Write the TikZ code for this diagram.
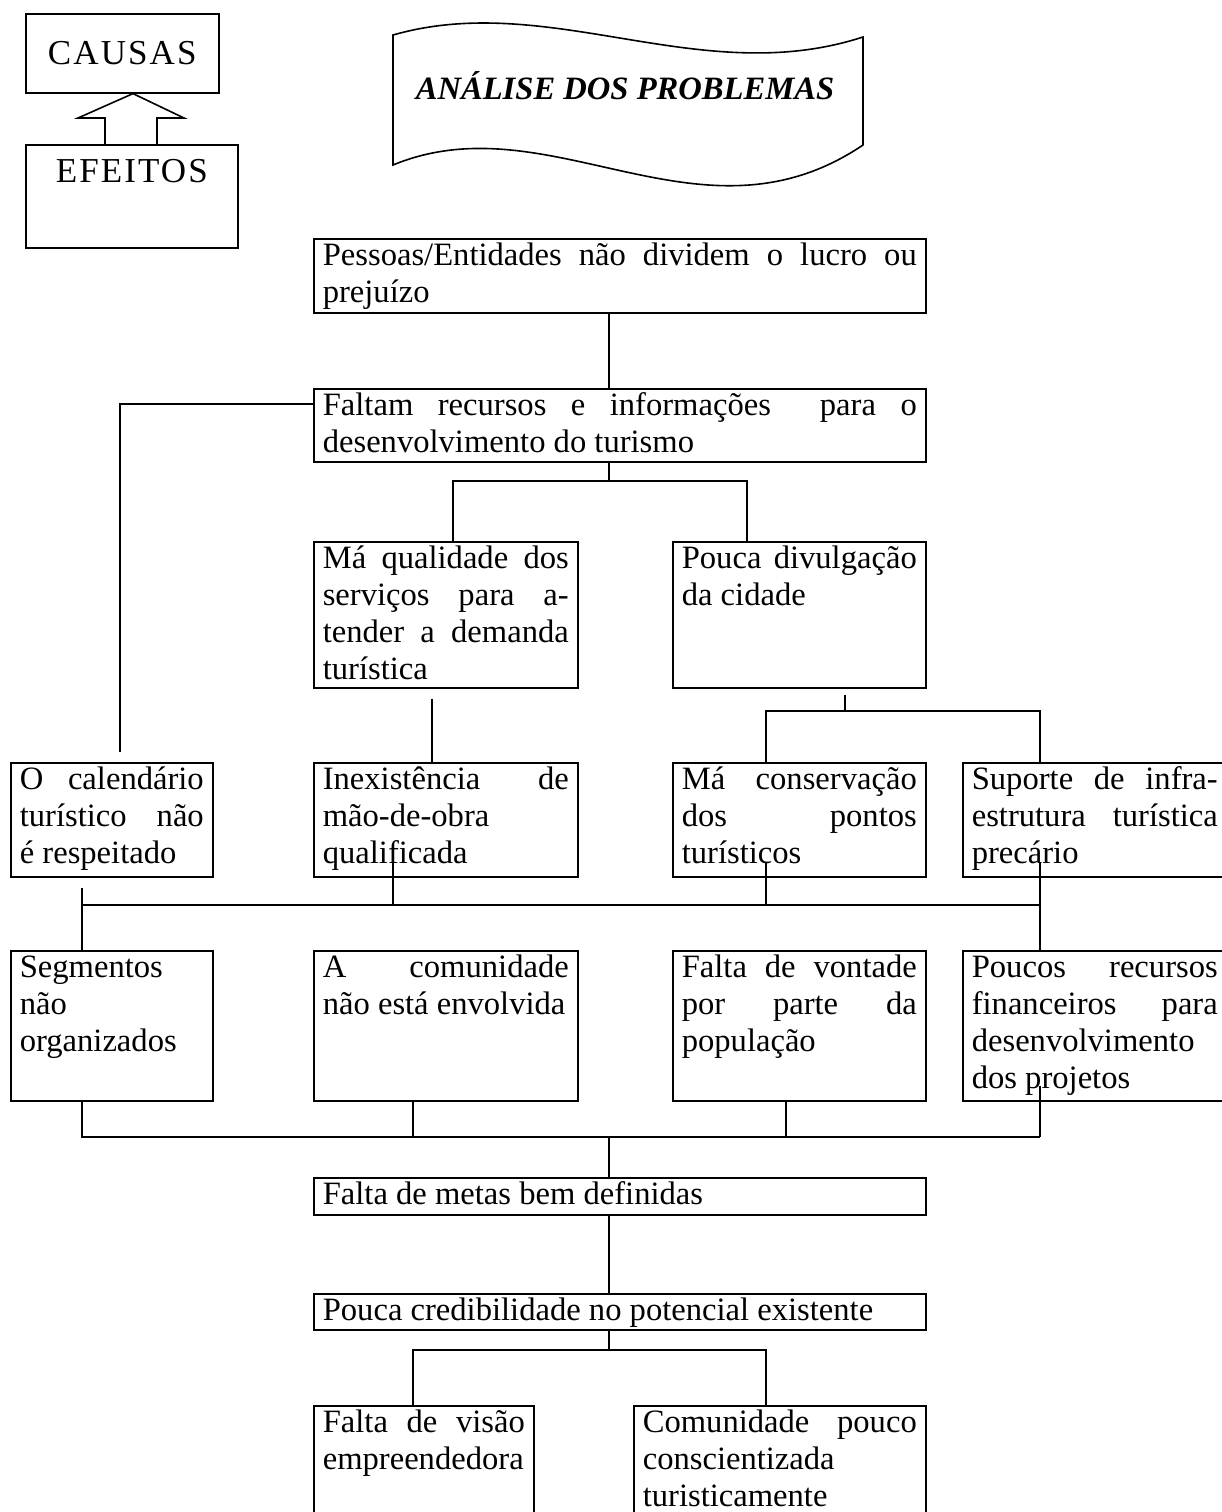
\documentclass[tikz,border=0pt]{standalone}
\usepackage{fontspec}
\setmainfont{Liberation Serif}
\newfontfamily\legfont[LetterSpace=6]{Liberation Serif}
\usetikzlibrary{calc,positioning}
\tikzset{
  box/.style={draw,line width=.8pt,anchor=north west,inner xsep=4.5pt,inner ysep=0pt,
    align=justify,text height=13.5pt,text depth=#1,
    font={\fontsize{16.3}{18.5}\selectfont\hyphenpenalty=10000\tolerance=9999}},
  legbox/.style={draw,line width=.8pt,anchor=north west,inner sep=0pt,
    font={\fontsize{17.5}{19}\legfont}},
  link/.style={line width=.8pt}
}
\begin{document}
\begin{tikzpicture}[x=.5pt,y=-.5pt]
  \useasboundingbox (0,0) rectangle (1222,1512);
  \clip (0,0) rectangle (1222,1512);
  \node[legbox,minimum width=96.5pt,minimum height=39.5pt] (cau) at (25,13) {CAUSAS\hspace{1pt}};
  \node[legbox,minimum width=106pt,text height=19pt,text depth=32.5pt] (efe) at (25,144) {EFEITOS\hspace{5pt}};
  \draw[link] (105,0 |- efe.north) -- (105,118) -- (78,118) -- (133,0 |- cau.south)
    -- (184,118) -- (157,118) -- (157,0 |- efe.north);
  \draw[link] (393,35) .. controls (550,-10) and (700,90) .. (863,37) -- (863,145)
    .. controls (700,255) and (550,100) .. (393,165) -- cycle;
  \node[font={\fontsize{16.3}{18.5}\selectfont\bfseries\itshape}] (tit) at (625,86) {ANÁLISE DOS PROBLEMAS};

  \node[box=23.5pt,text width=297pt] (pess) at (313,238) {Pessoas/Entidades não dividem o lucro ou\linebreak prejuízo};
  \node[box=23pt,text width=297pt] (falt) at (313,388) {Faltam recursos e informações\ \ para o\linebreak desenvolvimento do turismo};
  \node[box=59.5pt,text width=123pt] (mqual) at (313,541) {Má qualidade dos\linebreak serviços para a-\linebreak tender a demanda\linebreak turística};
  \node[box=59.5pt,text width=117.5pt] (pdiv) at (672,541) {Pouca divulgação\linebreak da cidade};
  \node[box=43.5pt,text width=92pt] (cal) at (10,762) {O calendário\linebreak turístico não\linebreak é respeitado};
  \node[box=43.5pt,text width=123pt] (inex) at (313,762) {Inexistência de\linebreak mão-de-obra\\ qualificada};
  \node[box=43.5pt,text width=117.5pt] (mcons) at (672,762) {Má conservação\linebreak dos pontos\linebreak turísticos};
  \node[box=43.5pt,text width=123pt] (sup) at (962,762) {Suporte de infra-\linebreak estrutura turística\linebreak precário};
  \node[box=61.5pt,text width=92pt] (seg) at (10,950) {Segmentos\\ não\\ organizados};
  \node[box=61.5pt,text width=123pt] (com) at (313,950) {A comunidade\linebreak não está envolvida};
  \node[box=61.5pt,text width=117.5pt] (fvon) at (672,950) {Falta de vontade\linebreak por parte da\linebreak população};
  \node[box=61.5pt,text width=123pt] (pouc) at (962,950) {Poucos recursos\linebreak financeiros para\linebreak desenvolvimento\\ dos projetos};
  \node[box=5pt,text width=297pt] (metas) at (313,1177) {Falta de metas bem definidas};
  \node[box=4.5pt,text width=297pt] (cred) at (313,1293) {Pouca credibilidade no potencial existente};
  \node[box=70pt,text width=101pt] (visao) at (313,1405) {Falta de visão\linebreak empreendedora};
  \node[box=70pt,text width=137pt] (consc) at (633,1405) {Comunidade pouco\linebreak conscientizada\\ turisticamente};

  \draw[link] (609,0 |- pess.south) -- (609,0 |- falt.north);
  \draw[link] (falt.west |- 0,404) -- (120,404) -- ($(120,0 |- cal.north)+(0,-10)$);
  \draw[link] (609,0 |- falt.south) -- (609,481);
  \draw[link] (453,0 |- mqual.north) |- (747,481) -- (747,0 |- pdiv.north);
  \draw[link] ($(432,0 |- mqual.south)+(0,10)$) -- (432,0 |- inex.north);
  \draw[link] ($(845,0 |- pdiv.south)+(0,6)$) -- (845,711);
  \draw[link] (766,0 |- mcons.north) |- (1040,711) -- (1040,0 |- sup.north);
  \draw[link] ($(82,0 |- cal.south)+(0,10)$) -- (82,0 |- seg.north);
  \draw[link] (82,905) -- (1040,905);
  \draw[link] ($(393,0 |- inex.south)+(0,-16)$) -- (393,905);
  \draw[link] ($(766,0 |- mcons.south)+(0,-16)$) -- (766,905);
  \draw[link] ($(1040,0 |- sup.south)+(0,-16)$) -- (1040,0 |- pouc.north);
  \draw[link] (82,0 |- seg.south) |- (1040,1137);
  \draw[link] (413,0 |- com.south) -- (413,1137);
  \draw[link] (786,0 |- fvon.south) -- (786,1137);
  \draw[link] ($(1040,0 |- pouc.south)+(0,-16)$) -- (1040,1137);
  \draw[link] (609,1137) -- (609,0 |- metas.north);
  \draw[link] (609,0 |- metas.south) -- (609,0 |- cred.north);
  \draw[link] (609,0 |- cred.south) -- (609,1350);
  \draw[link] (413,0 |- visao.north) |- (766,1350) -- (766,0 |- consc.north);
\end{tikzpicture}
\end{document}
